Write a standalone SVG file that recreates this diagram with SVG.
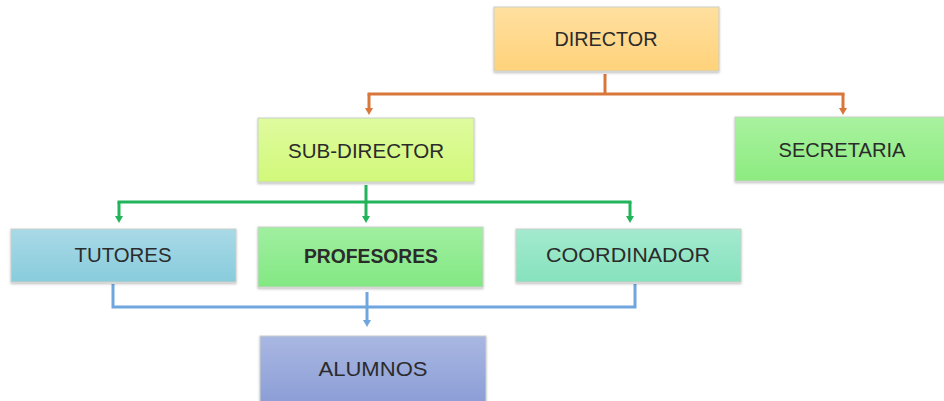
<svg xmlns="http://www.w3.org/2000/svg" width="944" height="401" viewBox="0 0 944 401">
<defs>
<style>
.box{stroke:#c9cfc9;stroke-width:1;filter:url(#sh)}
.lbl{font-family:"Liberation Sans",Arial,sans-serif;font-size:21px;fill:#2b2b2b;text-anchor:middle}
.c{fill:none;stroke-width:3;stroke-linecap:butt;stroke-linejoin:miter}
.o{stroke:#D9773A}
.g{stroke:#22B45A}
.b{stroke:#6FA6DE}
</style>
<filter id="sh" x="-5%" y="-10%" width="110%" height="125%">
<feDropShadow dx="0" dy="1.5" stdDeviation="1.2" flood-color="#000" flood-opacity="0.25"/>
</filter>
<linearGradient id="gDir" x1="0" y1="0" x2="0" y2="1"><stop offset="0" stop-color="#FFE0A0"/><stop offset="1" stop-color="#FFD27A"/></linearGradient>
<linearGradient id="gSub" x1="0" y1="0" x2="0" y2="1"><stop offset="0" stop-color="#DFFB9F"/><stop offset="1" stop-color="#D1F879"/></linearGradient>
<linearGradient id="gSec" x1="0" y1="0" x2="0" y2="1"><stop offset="0" stop-color="#A9F29F"/><stop offset="1" stop-color="#8CEB80"/></linearGradient>
<linearGradient id="gTut" x1="0" y1="0" x2="0" y2="1"><stop offset="0" stop-color="#A9D9E7"/><stop offset="1" stop-color="#88CCDC"/></linearGradient>
<linearGradient id="gPro" x1="0" y1="0" x2="0" y2="1"><stop offset="0" stop-color="#A0EFA0"/><stop offset="1" stop-color="#82E882"/></linearGradient>
<linearGradient id="gCoo" x1="0" y1="0" x2="0" y2="1"><stop offset="0" stop-color="#A3EACF"/><stop offset="1" stop-color="#86E2BD"/></linearGradient>
<linearGradient id="gAlu" x1="0" y1="0" x2="0" y2="1"><stop offset="0" stop-color="#A9B7E2"/><stop offset="1" stop-color="#8C9ED6"/></linearGradient>
<marker id="aO" markerUnits="userSpaceOnUse" markerWidth="7" markerHeight="8" refX="0" refY="4" orient="auto" viewBox="0 0 7 8"><path d="M0,0 L7,4 L0,8 Z" fill="#D9773A"/></marker>
<marker id="aG" markerUnits="userSpaceOnUse" markerWidth="7" markerHeight="8" refX="0" refY="4" orient="auto" viewBox="0 0 7 8"><path d="M0,0 L7,4 L0,8 Z" fill="#22B45A"/></marker>
<marker id="aB" markerUnits="userSpaceOnUse" markerWidth="7" markerHeight="8" refX="0" refY="4" orient="auto" viewBox="0 0 7 8"><path d="M0,0 L7,4 L0,8 Z" fill="#6FA6DE"/></marker>
</defs>
<rect width="944" height="401" fill="#fff"/>
<g id="connectors">
<path class="c o" d="M605,74 V94"/>
<path class="c o" d="M367.5,94 H844.5"/>
<path class="c o" d="M369,94 V108" marker-end="url(#aO)"/>
<path class="c o" d="M843,94 V108" marker-end="url(#aO)"/>
<path class="c g" d="M366,185 V202"/>
<path class="c g" d="M117.5,202 H631.5"/>
<path class="c g" d="M119,202 V216" marker-end="url(#aG)"/>
<path class="c g" d="M366,202 V216" marker-end="url(#aG)"/>
<path class="c g" d="M630,202 V216" marker-end="url(#aG)"/>
<path class="c b" d="M113,284 V307 H635 V284"/>
<path class="c b" d="M367,292 V320" marker-end="url(#aB)"/>
</g>
<g id="director"><rect class="box" x="494" y="7" width="225" height="64" fill="url(#gDir)"/><text class="lbl" x="606" y="46" textLength="103" lengthAdjust="spacingAndGlyphs">DIRECTOR</text></g>
<g id="subdirector"><rect class="box" x="258" y="118" width="216" height="64" fill="url(#gSub)"/><text class="lbl" x="366" y="158" textLength="156" lengthAdjust="spacingAndGlyphs">SUB-DIRECTOR</text></g>
<g id="secretaria"><rect class="box" x="735" y="117" width="212" height="64" fill="url(#gSec)"/><text class="lbl" x="842" y="157" textLength="127" lengthAdjust="spacingAndGlyphs">SECRETARIA</text></g>
<g id="tutores"><rect class="box" x="11" y="229" width="225" height="53" fill="url(#gTut)"/><text class="lbl" x="123" y="262" textLength="97" lengthAdjust="spacingAndGlyphs">TUTORES</text></g>
<g id="profesores"><rect class="box" x="258" y="227" width="225" height="60" fill="url(#gPro)"/><text class="lbl" x="371" y="263" textLength="134" lengthAdjust="spacingAndGlyphs" font-size="18" font-weight="bold">PROFESORES</text></g>
<g id="coordinador"><rect class="box" x="516" y="229" width="225" height="53" fill="url(#gCoo)"/><text class="lbl" x="628" y="262" textLength="164" lengthAdjust="spacingAndGlyphs">COORDINADOR</text></g>
<g id="alumnos"><rect class="box" x="260" y="336" width="226" height="66" fill="url(#gAlu)"/><text class="lbl" x="373" y="376" textLength="109" lengthAdjust="spacingAndGlyphs">ALUMNOS</text></g>
</svg>
